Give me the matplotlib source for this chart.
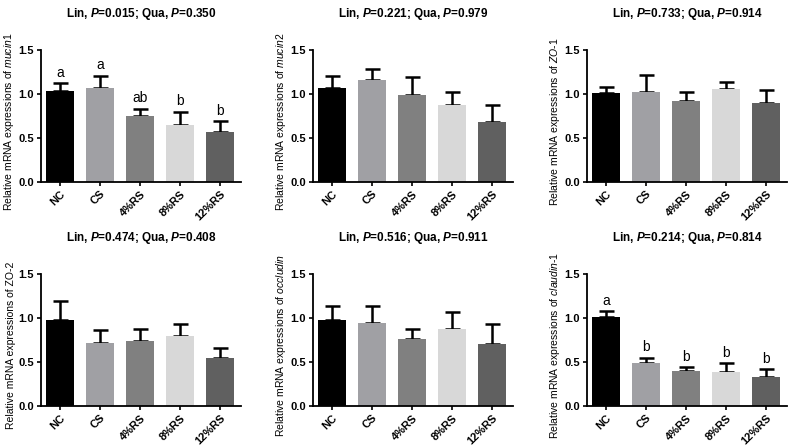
import numpy as np
import matplotlib
matplotlib.use('Agg')
import matplotlib.pyplot as plt

plt.rcParams['font.family'] = ['Liberation Sans', 'DejaVu Sans']
plt.rcParams['mathtext.fontset'] = 'custom'
plt.rcParams['mathtext.rm'] = 'Liberation Sans'
plt.rcParams['mathtext.it'] = 'Liberation Sans:italic'
plt.rcParams['mathtext.bf'] = 'Liberation Sans:italic:bold'

# groups and bar colours
groups = ['NC', 'CS', '4%RS', '8%RS', '12%RS']
colors = ['#000000', '#a0a0a4', '#808080', '#d8d8d8', '#606060']

# panel titles (P values)
lin_p = ['0.015', '0.221', '0.733', '0.474', '0.516', '0.214']
qua_p = ['0.350', '0.979', '0.914', '0.408', '0.911', '0.814']
genes = [r'$\it{mucin1}$', r'$\it{mucin2}$', r'$\it{ZO}$-$\it{1}$',
         'ZO-2', r'$\it{occludin}$', r'$\it{claudin}$-$\it{1}$']

# means and SE
mucin1 = [1.03, 1.07, 0.75, 0.645, 0.57]
mucin1_se = [0.09, 0.14, 0.08, 0.155, 0.12]
mucin2 = [1.07, 1.155, 0.99, 0.88, 0.68]
mucin2_se = [0.13, 0.125, 0.20, 0.14, 0.20]
zo1 = [1.014, 1.02, 0.915, 1.055, 0.90]
zo1_se = [0.06, 0.20, 0.105, 0.08, 0.14]
zo2 = [0.98, 0.72, 0.74, 0.79, 0.55]
zo2_se = [0.21, 0.14, 0.14, 0.14, 0.11]
occludin = [0.98, 0.94, 0.757, 0.87, 0.71]
occludin_se = [0.16, 0.196, 0.113, 0.20, 0.22]
claudin1 = [1.016, 0.487, 0.394, 0.386, 0.33]
claudin1_se = [0.06, 0.06, 0.046, 0.10, 0.09]

mucin1_letters = ['a', 'a', 'ab', 'b', 'b']
claudin1_letters = ['a', 'b', 'b', 'b', 'b']

means = [mucin1, mucin2, zo1, zo2, occludin, claudin1]
errs = [mucin1_se, mucin2_se, zo1_se, zo2_se, occludin_se, claudin1_se]
letters = [mucin1_letters, None, None, None, None, claudin1_letters]

fig = plt.figure(figsize=(7.95, 4.48), dpi=100)
lefts = [41/795, 313/795, 587/795]
bottoms = [1 - 182/448, 1 - 406/448]
w = 200/795
h = 132/448

x = np.arange(len(groups))
for i in range(6):
    r, c = divmod(i, 3)
    ax = fig.add_axes([lefts[c], bottoms[r], w, h])
    ax.bar(x, means[i], width=0.71, color=colors, zorder=2)
    ax.errorbar(x, means[i], yerr=[np.zeros(5), errs[i]], fmt='none',
                ecolor='black', elinewidth=1.8, capsize=5.4, capthick=1.8, zorder=1)
    ax.set_xlim(-0.48, 4.52)
    ax.set_ylim(0, 1.5)
    ax.set_yticks([0, 0.5, 1.0, 1.5])
    ax.set_yticklabels(['0.0', '0.5', '1.0', '1.5'], fontsize=8, fontweight='bold')
    ax.set_xticks(x)
    ax.set_xticklabels(groups, rotation=45, ha='right', rotation_mode='anchor',
                       fontsize=8, fontweight='bold')
    ax.tick_params(axis='both', length=3, width=1.2, pad=2)
    for s in ['top', 'right']:
        ax.spines[s].set_visible(False)
    for s in ['left', 'bottom']:
        ax.spines[s].set_linewidth(1.3)
    ax.set_ylabel('Relative mRNA expressions of ' + genes[i], fontsize=7.5)
    ax.yaxis.set_label_coords(-0.125, 0.46)
    ax.set_title(r'Lin, $\mathbf{P}$=' + lin_p[i] + r'; Qua, $\mathbf{P}$=' + qua_p[i],
                 fontsize=8.5, fontweight='bold', pad=24)
    if letters[i] is not None:
        for j in range(5):
            ax.text(x[j], means[i][j] + errs[i][j] + 0.04, letters[i][j],
                    ha='center', va='bottom', fontsize=10)

plt.savefig('out.png', dpi=100)
